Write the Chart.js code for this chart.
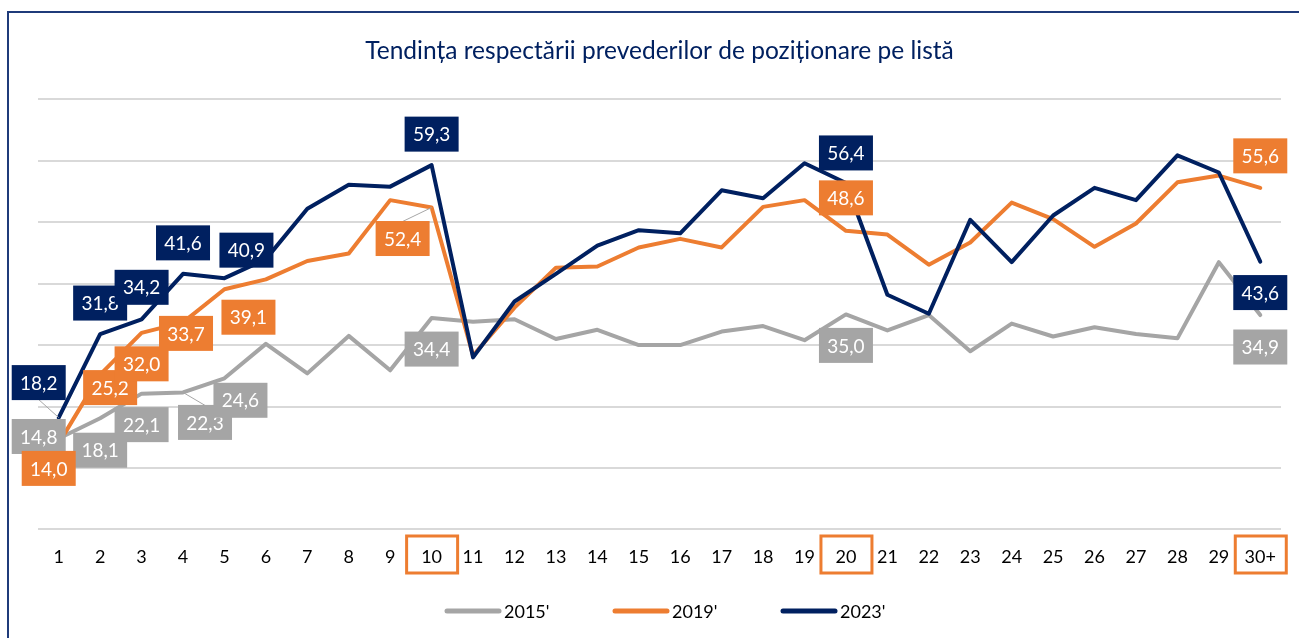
<!DOCTYPE html>
<html>
<head>
<meta charset="utf-8">
<script src="https://cdn.jsdelivr.net/npm/chart.js@4"></script>
<style>
  html, body { margin: 0; padding: 0; background: #fff; overflow: hidden; }
  #wrap { position: relative; width: 1299px; height: 638px; }
  #frame { position: absolute; left: 7px; top: 11px; width: 1400px; height: 800px;
           border: 2px solid #1F3B7A; box-sizing: border-box; pointer-events: none; }
</style>
</head>
<body>
<div id="wrap">
  <canvas id="lineChart" width="1299" height="638"></canvas>
  <div id="frame"></div>
</div>
<script>
const categories = ['1','2','3','4','5','6','7','8','9','10','11','12','13','14','15',
                    '16','17','18','19','20','21','22','23','24','25','26','27','28','29','30+'];
const values2015 = [14.8, 18.1, 22.1, 22.3, 24.6, 30.2, 25.4, 31.5, 25.9, 34.4,
                    33.8, 34.2, 31.0, 32.5, 30.0, 30.0, 32.2, 33.1, 30.8, 35.0,
                    32.4, 34.9, 29.0, 33.5, 31.4, 32.9, 31.8, 31.1, 43.5, 34.9];
const values2019 = [14.0, 25.2, 32.0, 33.7, 39.1, 40.7, 43.7, 44.9, 53.6, 52.4,
                    28.3, 36.1, 42.6, 42.8, 45.9, 47.3, 45.9, 52.5, 53.6, 48.6,
                    48.0, 43.1, 46.7, 53.2, 50.5, 46.0, 49.8, 56.5, 57.6, 55.6];
const values2023 = [18.2, 31.8, 34.2, 41.6, 40.9, 44.0, 52.2, 56.1, 55.8, 59.3,
                    28.0, 37.1, 41.6, 46.2, 48.7, 48.2, 55.2, 53.9, 59.6, 56.4,
                    38.2, 35.1, 50.4, 43.5, 51.1, 55.6, 53.6, 60.9, 58.1, 43.6];
const seriesNames = ["2015'", "2019'", "2023'"];
const highlightTicks = ['10', '20', '30+'];
const labelIndices = [0, 1, 2, 3, 4, 9, 19, 29];

const colors = ['#A5A5A5', '#ED7D31', '#002060'];
const FONT = 'Lato, "Open Sans", sans-serif';

// label box offsets from the point (dx, dy) and leader line flags, per series
const labelLayout = [
    { off: [[-20,-2],[0,32],[0,31],[22,30],[16,22],[0,31],[0,31],[0,32]], leader: [3] },
    { off: [[-10,25],[10,13],[0,31],[3,11],[24,28],[-29,31],[0,-33],[0,-32]], leader: [9] },
    { off: [[-20,-35],[0,-31],[0,-32],[0,-31],[22,-28],[0,-31],[0,-30],[0,31]], leader: [0] }
];

const pointLabels = {
    id: 'pointLabels',
    afterDatasetsDraw(chart) {
        const ctx = chart.ctx;
        ctx.save();
        ctx.font = '19px ' + FONT;
        ctx.textAlign = 'center';
        ctx.textBaseline = 'middle';
        chart.data.datasets.forEach((ds, s) => {
            const meta = chart.getDatasetMeta(s);
            const lay = labelLayout[s];
            labelIndices.forEach((idx, k) => {
                const pt = meta.data[idx];
                const cx = pt.x + lay.off[k][0];
                const cy = pt.y + lay.off[k][1];
                if (lay.leader.includes(idx)) {
                    ctx.strokeStyle = '#A6A6A6';
                    ctx.lineWidth = 1;
                    ctx.beginPath();
                    ctx.moveTo(cx, cy + (lay.off[k][1] < 0 ? 17 : -17));
                    ctx.lineTo(pt.x, pt.y);
                    ctx.stroke();
                }
                ctx.fillStyle = colors[s];
                ctx.fillRect(cx - 27, cy - 17.5, 54, 35);
                ctx.fillStyle = '#FFFFFF';
                ctx.fillText(ds.data[idx].toFixed(1).replace('.', ','), cx, cy + 1);
            });
        });
        ctx.restore();
    }
};

const tickBoxes = {
    id: 'tickBoxes',
    afterDraw(chart) {
        const ctx = chart.ctx;
        const x = chart.scales.x;
        ctx.save();
        ctx.strokeStyle = '#ED7D31';
        ctx.lineWidth = 3;
        highlightTicks.forEach(t => {
            const px = x.getPixelForValue(categories.indexOf(t));
            ctx.strokeRect(px - 25, 536, 51, 37);
        });
        ctx.restore();
    }
};

const customLegend = {
    id: 'customLegend',
    afterDraw(chart) {
        const ctx = chart.ctx;
        ctx.save();
        ctx.font = '18px ' + FONT;
        ctx.textBaseline = 'middle';
        ctx.lineCap = 'round';
        let x = 447;
        const y = 611;
        chart.data.datasets.forEach((ds, s) => {
            ctx.strokeStyle = colors[s];
            ctx.lineWidth = 5;
            ctx.beginPath();
            ctx.moveTo(x, y);
            ctx.lineTo(x + 52, y);
            ctx.stroke();
            ctx.fillStyle = '#000000';
            ctx.fillText(ds.label, x + 57, y + 1);
            x += 168;
        });
        ctx.restore();
    }
};

const makeSet = (i, data, order) => ({
    label: seriesNames[i],
    data: data,
    borderColor: colors[i],
    backgroundColor: colors[i],
    borderWidth: 4,
    pointRadius: 0,
    tension: 0,
    borderCapStyle: 'round',
    borderJoinStyle: 'round',
    order: order
});

new Chart(document.getElementById('lineChart'), {
    type: 'line',
    data: {
        labels: categories,
        datasets: [
            makeSet(0, values2015, 3),
            makeSet(1, values2019, 2),
            makeSet(2, values2023, 1)
        ]
    },
    options: {
        responsive: false,
        animation: false,
        layout: { padding: { left: 38, right: 18, top: 0, bottom: 61 } },
        plugins: {
            legend: { display: false },
            tooltip: { enabled: false },
            title: {
                display: true,
                text: 'Tendința respectării prevederilor de poziționare pe listă',
                color: '#002060',
                font: { family: FONT, size: 24.5, weight: 'normal' },
                padding: { top: 36, bottom: 34 }
            }
        },
        scales: {
            x: {
                offset: true,
                grid: { display: false },
                border: { display: false },
                ticks: { color: '#000000', font: { family: FONT, size: 18 }, padding: 9,
                         maxRotation: 0, autoSkip: false }
            },
            y: {
                min: 0,
                max: 70,
                ticks: { display: false, stepSize: 10 },
                grid: { color: '#D9D9D9', lineWidth: 2, drawTicks: false },
                border: { display: false },
                afterFit(scale) { scale.width = 0; }
            }
        }
    },
    plugins: [pointLabels, tickBoxes, customLegend]
});
</script>
</body>
</html>
